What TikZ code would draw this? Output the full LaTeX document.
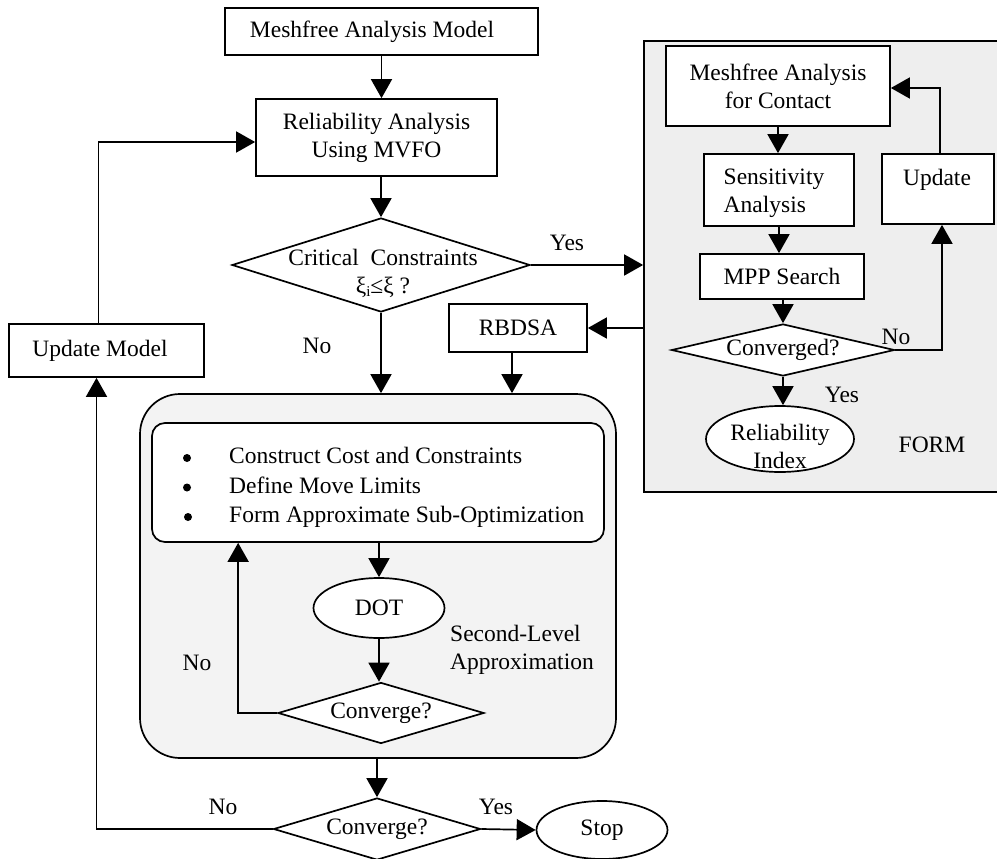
\documentclass[tikz,border=0pt]{standalone}
\usepackage{fontspec}
\setmainfont{Liberation Serif}
\usetikzlibrary{shapes.geometric,arrows.meta,calc}
\definecolor{formgray}{HTML}{EEEEEE}
\definecolor{slagray}{HTML}{F3F3F3}
\begin{document}
\begin{tikzpicture}[x=1pt,y=-1pt,
  every node/.style={font=\fontsize{23.5}{28}\selectfont},
  lw/.style={line width=1.7pt},
  box/.style={draw, lw, fill=white, inner sep=0pt, align=center},
  dia/.style={draw, lw, fill=white, diamond, inner sep=0pt},
  ell/.style={draw, lw, fill=white, ellipse, inner sep=0pt},
  lbl/.style={inner sep=0pt, align=center},
  bul/.style={circle, fill=black, inner sep=0pt, minimum size=8pt},
  arr/.style={lw, -{Triangle[length=19pt,width=21pt]}},
  ]
\useasboundingbox (0,0) rectangle (997,859);

% containers
\node[draw, lw, fill=formgray, minimum width=356pt, minimum height=451pt, inner sep=0pt] (form) at (822,266.5) {};
\node[draw, lw, fill=slagray, rounded corners=40pt, minimum width=476pt, minimum height=364pt, inner sep=0pt] (sla) at (378,576) {};

% main column
\node[box, minimum width=313pt, minimum height=47pt] (mam) at (381.5,31.5) {};
\node[lbl] (mamt) at (372,32) {Meshfree Analysis Model};
\node[box, minimum width=241pt, minimum height=77pt] (rel) at (376.5,137.5) {Reliability Analysis\\Using MVFO};
\node[dia, minimum width=298pt, minimum height=94pt] (crit) at (381,265) {};
\node[lbl] (critt) at (383,273) {Critical\ \ Constraints\\ξ\raisebox{-3pt}{\fontsize{15}{15}\selectfont i}≤ξ ?};
\node[box, minimum width=195pt, minimum height=53pt] (upm) at (106.5,350.5) {};
\node[lbl] (upmt) at (100,351) {Update Model};
\node[box, minimum width=138pt, minimum height=48pt] (rbdsa) at (518,328) {RBDSA};

% FORM contents
\node[box, minimum width=224pt, minimum height=80pt] (mfc) at (778,86) {Meshfree Analysis\\for Contact};
\node[box, minimum width=150pt, minimum height=72pt] (sens) at (779,190) {};
\node[lbl, align=left] (senst) at (774,193) {Sensitivity\\Analysis};
\node[box, minimum width=112pt, minimum height=70pt] (upd) at (938,189) {};
\node[lbl] (updt) at (937,180) {Update};
\node[box, minimum width=164pt, minimum height=45pt] (mpp) at (782,276.5) {MPP Search};
\node[dia, minimum width=223pt, minimum height=52pt] (conv1) at (783,350) {};
\node[lbl] (conv1t) at (783,350) {Converged?};
\node[ell, minimum width=148pt, minimum height=66pt] (ri) at (780,439) {};
\node[lbl] (rit) at (780,446) {Reliability\\Index};
\node[lbl] (formt) at (932,445) {FORM};
\node[lbl] (no1) at (896,337) {No};
\node[lbl] (yes1) at (842,395) {Yes};

% second-level contents
\node[draw, lw, fill=white, rounded corners=13pt, minimum width=452pt, minimum height=119pt, inner sep=0pt] (inner) at (378,482.5) {};
\node[bul] (b1) at (187,458) {};
\node[bul] (b2) at (187,487.5) {};
\node[bul] (b3) at (188,517) {};
\node[lbl, align=left, anchor=west, font=\fontsize{23.5}{29.5}\selectfont] (blt) at (229,487.5)
  {Construct Cost and Constraints\\
   Define Move Limits\\
   Form Approximate Sub-Optimization};
\node[ell, minimum width=131pt, minimum height=60pt] (dot) at (379,608) {};
\node[lbl] (dott) at (379,608) {DOT};
\node[dia, minimum width=206pt, minimum height=61pt] (conv2) at (381,713) {};
\node[lbl] (conv2t) at (381,713) {Converge?};
\node[lbl, align=left, anchor=west] (slat) at (450,650) {Second-Level\\Approximation};
\node[lbl] (no2) at (197,663) {No};

% bottom
\node[dia, minimum width=207pt, minimum height=62pt] (conv3) at (377,829) {};
\node[lbl] (conv3t) at (377,829) {Converge?};
\node[ell, minimum width=131pt, minimum height=58pt] (stop) at (602,830) {};
\node[lbl] (stopt) at (602,830) {Stop};
\node[lbl] (no3) at (223,807) {No};
\node[lbl] (yes3) at (496,807) {Yes};
\node[lbl] (yesc) at (567,243) {Yes};
\node[lbl] (noc) at (317,346) {No};

% connectors main
\draw[arr] (mam.south) -- (mam.south |- rel.north);
\draw[arr] (crit.north |- rel.south) -- (crit.north);
\draw[arr] (crit.east) -- (crit.east -| form.west);
\draw[arr] (crit.south) -- (crit.south |- sla.north);
\draw[arr] (form.west |- rbdsa.east) -- (rbdsa.east);
\draw[arr] ($(rbdsa.south)+(-6,0)$) -- ($(rbdsa.south |- sla.north)+(-6,0)$);
\draw[arr] ($(upm.north)+(-8,0)$) |- ($(rel.west)+(0,4.5)$);
\draw[arr] (conv3.west) -| ($(upm.south)+(-10,0)$);

% connectors FORM
\draw[arr] (mfc.south) -- (mfc.south |- sens.north);
\draw[arr] (sens.south) -- (sens.south |- mpp.north);
\draw[arr] (conv1.north |- mpp.south) -- (conv1.north);
\draw[arr] (conv1.south) -- (conv1.south |- ri.north);
\draw[arr] (conv1.east) -| ($(upd.south)+(4,0)$);
\draw[arr] ($(upd.north)+(2,0)$) |- ($(mfc.east)+(0,2)$);

% connectors second level
\draw[arr] (dot.north |- inner.south) -- (dot.north);
\draw[arr] (dot.south) -- (dot.south |- conv2.north);
\draw[arr] (conv2.west) -| ($(inner.south west)+(87,0)$);
\draw[arr] (conv3.north |- sla.south) -- (conv3.north);
\draw[arr] (conv3.east) -- (stop.west);
\end{tikzpicture}
\end{document}
